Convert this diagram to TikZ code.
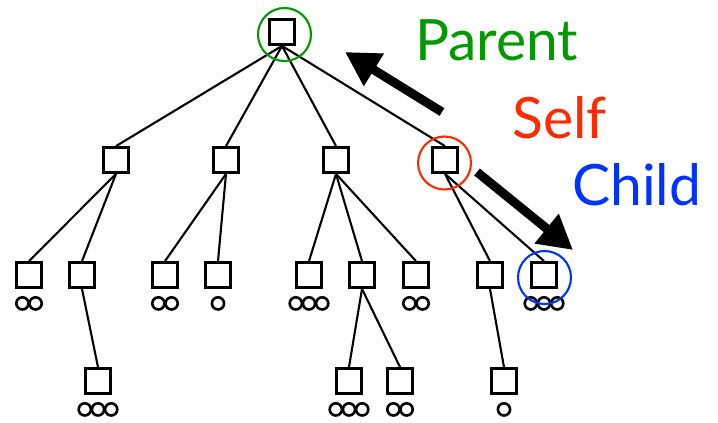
\documentclass[tikz,border=0pt]{standalone}
\usepackage{fontspec}
\setmainfont{Lato}
\usetikzlibrary{arrows.meta}
\definecolor{pgreen}{RGB}{0,153,0}
\definecolor{sred}{RGB}{255,42,0}
\definecolor{cblue}{RGB}{0,51,255}
\tikzset{
  tbox/.style={draw, line width=2.8pt, minimum size=25pt, inner sep=0pt},
  tedge/.style={line width=2.1pt},
  dot/.style={line width=2.6pt},
  hl/.style={line width=2.1pt},
  bigarrow/.style={line width=9pt, -{Triangle[length=34pt,width=36pt]}},
  lbl/.style={font=\fontsize{57}{57}\selectfont, inner sep=0pt, anchor=base west}
}
\newcommand{\dotsunder}[2]{% node name, count
  \ifcase#2\or
    \draw[dot] ([yshift=-14.5pt]#1.south) circle (6.1pt);
  \or
    \draw[dot] ([xshift=-6.6pt,yshift=-14.5pt]#1.south) circle (6.1pt);
    \draw[dot] ([xshift=6.6pt,yshift=-14.5pt]#1.south) circle (6.1pt);
  \or
    \draw[dot] ([xshift=-13.2pt,yshift=-14.5pt]#1.south) circle (6.1pt);
    \draw[dot] ([yshift=-14.5pt]#1.south) circle (6.1pt);
    \draw[dot] ([xshift=13.2pt,yshift=-14.5pt]#1.south) circle (6.1pt);
  \fi}
\begin{document}
\begin{tikzpicture}[x=1pt,y=-1pt]
\useasboundingbox (0,0) rectangle (718,423);
% root
\node[tbox] (r) at (282,32) {};
% level 1
\node[tbox] (a) at (116,160) {};
\node[tbox] (b) at (226,160) {};
\node[tbox] (c) at (336,160) {};
\node[tbox] (s) at (445,160) {};
% level 2
\node[tbox] (a1) at (29,275) {};
\node[tbox] (a2) at (82,275) {};
\node[tbox] (b1) at (165,275) {};
\node[tbox] (b2) at (218,275) {};
\node[tbox] (c1) at (309,275) {};
\node[tbox] (c2) at (362,275) {};
\node[tbox] (c3) at (416,275) {};
\node[tbox] (s1) at (490,275) {};
\node[tbox] (s2) at (544,275) {};
% level 3
\node[tbox] (a21) at (98,381) {};
\node[tbox] (c21) at (349,381) {};
\node[tbox] (c22) at (400,381) {};
\node[tbox] (s11) at (504,381) {};
% edges
\foreach \p/\q in {r/a,r/b,r/c,r/s,a/a1,a/a2,b/b1,b/b2,c/c1,c/c2,c/c3,s/s1,s/s2,a2/a21,c2/c21,c2/c22,s1/s11}
  \draw[tedge] (\p.south) -- (\q.north);
% dots
\dotsunder{a1}{2}
\dotsunder{b1}{2}
\dotsunder{b2}{1}
\dotsunder{c1}{3}
\dotsunder{c3}{2}
\dotsunder{s2}{3}
\dotsunder{a21}{3}
\dotsunder{c21}{3}
\dotsunder{c22}{2}
\dotsunder{s11}{1}
% highlight circles
\node[draw=pgreen, hl, circle, minimum size=53pt, inner sep=0pt] (pc) at (284.5,34.5) {};
\node[draw=sred, hl, circle, minimum size=53pt, inner sep=0pt] (sc) at (444.5,163) {};
\node[draw=cblue, hl, circle, minimum size=53pt, inner sep=0pt] (cc) at (544.5,277.5) {};
% arrows
\coordinate (p0) at (442,112);
\coordinate (p1) at (345,52);
\coordinate (c0) at (477,172);
\coordinate (c1e) at (573,250);
\draw[bigarrow] (p0) -- (p1);
\draw[bigarrow] (c0) -- (c1e);
% labels
\node[lbl, text=pgreen] (pt) at (415,60) {Parent};
\node[lbl, text=sred] (st) at (512,138) {Self};
\node[lbl, text=cblue] (ct) at (572,205) {Child};
\end{tikzpicture}
\end{document}
